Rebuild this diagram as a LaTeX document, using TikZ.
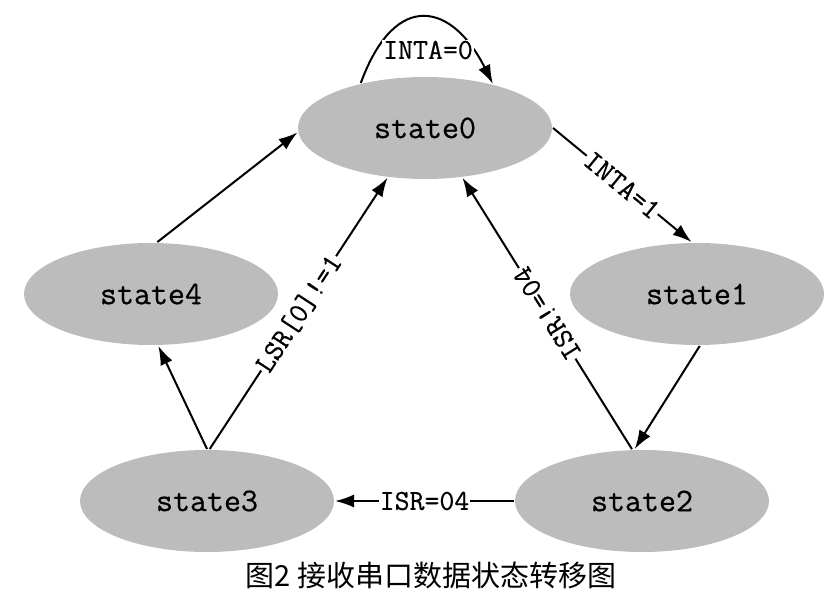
\documentclass[tikz,border=0pt]{standalone}
\usepackage{fontspec}
\newfontfamily\cjk{Noto Sans CJK SC}
\newfontfamily\statefont[FakeBold=0.6]{Latin Modern Mono}
\usepackage{tikz}
\usetikzlibrary{arrows.meta,shapes.geometric}
\definecolor{stategray}{RGB}{188,188,188}

\begin{document}
\begin{tikzpicture}[x=1pt,y=1pt,line width=2pt,
        state/.style={ellipse,fill=stategray,minimum width=254pt,minimum height=102pt,inner sep=0pt,font=\fontsize{33}{33}\selectfont\statefont},
        lbl/.style={fill=white,inner sep=1pt,font=\fontsize{29}{29}\selectfont\statefont},
        trans/.style={-{Latex[length=19pt,width=13pt]}}]
        \useasboundingbox (0,0) rectangle (837,601);
        % the five states
        \node[state] (s0) at (425,473) {state0};
        \node[state] (s4) at (151,307) {state4};
        \node[state] (s1) at (697,307) {state1};
        \node[state] (s3) at (207,100) {state3};
        \node[state] (s2) at (642,100) {state2};
        % self loop on state0
        \draw[trans] (s0.145) .. controls +(35,95) and +(-40,80) .. (s0.33);
        \node[lbl] (t0) at (428,551) {INTA=0};
        % transitions
        \draw[trans] (s0.0) -- node[lbl,sloped] {INTA=1} (s1.96);
        \draw[trans] (s1.273) -- (s2.98);
        \draw[trans] (s2.180) -- node[lbl] {ISR=04} (s3.0);
        \draw[trans] (s2.101) -- node[lbl,sloped,allow upside down] {ISR!=04} (s0.307);
        \draw[trans] (s3.87) -- node[lbl,sloped] {LSR[0]!=1} (s0.233);
        \draw[trans] (s3.90) -- (s4.278);
        \draw[trans] (s4.83) -- (s0.182);
        % caption
        \node[font=\fontsize{29}{29}\selectfont\cjk] (cap) at (431,26) {图2 接收串口数据状态转移图};
\end{tikzpicture}
\end{document}
